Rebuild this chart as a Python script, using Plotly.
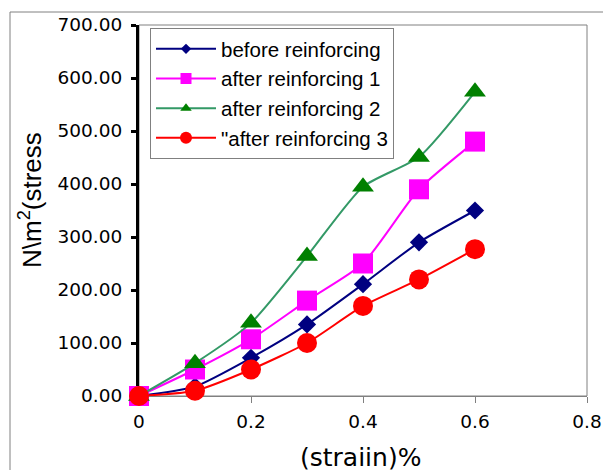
import plotly.graph_objects as go

strain = [0, 0.1, 0.2, 0.3, 0.4, 0.5, 0.6]
before = [0, 18, 72, 135, 211, 290, 350]
after1 = [0, 50, 107, 180, 250, 390, 480]
after2 = [0, 62, 138, 264, 395, 451, 574]
after3 = [0, 10, 50, 100, 170, 220, 277]

names = ["before reinforcing", "after reinforcing 1", "after reinforcing 2", "\"after reinforcing 3"]
series = [before, after1, after2, after3]
line_colors = ["#000080", "#FF00FF", "#339966", "#FF0000"]
marker_colors = ["#000080", "#FF00FF", "#008000", "#FF0000"]
symbols = ["diamond", "square", "triangle-up", "circle"]
sizes = [14, 20, 19, 20]
legend_sizes = [8, 11, 10, 12]

x_ticks = [0, 0.2, 0.4, 0.6, 0.8]
y_ticks = [0, 100, 200, 300, 400, 500, 600, 700]

FONT = "Liberation Sans, Arial, sans-serif"
TICKFONT = "DejaVu Sans, sans-serif"

fig = go.Figure()
for name, ys, lc, mc, sym, sz in zip(names, series, line_colors, marker_colors, symbols, sizes):
    fig.add_trace(go.Scatter(
        x=strain, y=ys, mode="lines+markers", name=name, showlegend=False,
        line=dict(color=lc, width=2, shape="spline", smoothing=0.6),
        marker=dict(symbol=sym, size=sz, color=mc, line=dict(width=0)),
        cliponaxis=False,
    ))
for name, lc, mc, sym, sz in zip(names, line_colors, marker_colors, symbols, legend_sizes):
    fig.add_trace(go.Scatter(
        x=[None], y=[None], mode="lines+markers", name=name,
        line=dict(color=lc, width=2),
        marker=dict(symbol=sym, size=sz, color=mc, line=dict(width=0)),
    ))

OFF = 8  # page body margin
W, H = 611 - OFF, 470 - OFF
# reference pixel positions of the plot area
PX0, PX1, PY0, PY1 = 139, 587, 25, 396
L, R, T = PX0 - OFF, W - (PX1 - OFF), PY0 - OFF
B = H - (PY1 - OFF)
pw, ph = PX1 - PX0, PY1 - PY0


def px(xr):
    return (xr - PX0) / pw


def py(yr):
    return (PY1 - yr) / ph


fig.update_layout(
    width=W, height=H,
    margin=dict(l=L, r=R, t=T, b=B, autoexpand=False),
    paper_bgcolor="white", plot_bgcolor="white",
    font=dict(family=FONT, size=20, color="black"),
    showlegend=True,
    legend=dict(
        x=px(150), y=py(28), xanchor="left", yanchor="top",
        bgcolor="white", bordercolor="#808080", borderwidth=1,
        font=dict(family=FONT, size=20.5, color="black"),
        itemwidth=60, tracegroupgap=0,
    ),
    xaxis=dict(
        range=[0, 0.8], tickvals=x_ticks, ticktext=[f"{v:g}" for v in x_ticks],
        showgrid=False, zeroline=False, showline=True, linecolor="#808080", linewidth=1,
        ticks="outside", ticklen=6, tickcolor="#808080", tickwidth=1,
        layer="below traces", ticklabelstandoff=3,
        tickfont=dict(family=TICKFONT, size=18.5, color="black"),
    ),
    yaxis=dict(
        range=[0, 700], tickvals=y_ticks, ticktext=[f"{v:.2f}" for v in y_ticks],
        showgrid=False, zeroline=False, showline=True, linecolor="black", linewidth=3,
        ticks="outside", ticklen=5, tickcolor="black", tickwidth=3,
        layer="below traces", ticklabelstandoff=5,
        tickfont=dict(family=TICKFONT, size=18.5, color="black"),
    ),
    shapes=[
        dict(type="rect", xref="paper", yref="paper", x0=0, x1=1, y0=0, y1=1,
             line=dict(color="#808080", width=1), layer="below"),
        dict(type="rect", xref="paper", yref="paper",
             x0=px(10), x1=px(640), y0=py(500), y1=py(12),
             line=dict(color="#808080", width=1), layer="below"),
    ],
    annotations=[
        dict(text="(straiin)%", xref="paper", yref="paper",
             x=px(360), y=py(457), xanchor="center", yanchor="middle",
             showarrow=False, font=dict(family=TICKFONT, size=25, color="black")),
        dict(text="N\\m<sup>2</sup>(stress", xref="paper", yref="paper",
             x=px(30), y=py(200), xanchor="center", yanchor="middle",
             textangle=-90, showarrow=False, font=dict(family=FONT, size=26, color="black")),
    ],
)

fig.write_html("out.html")
